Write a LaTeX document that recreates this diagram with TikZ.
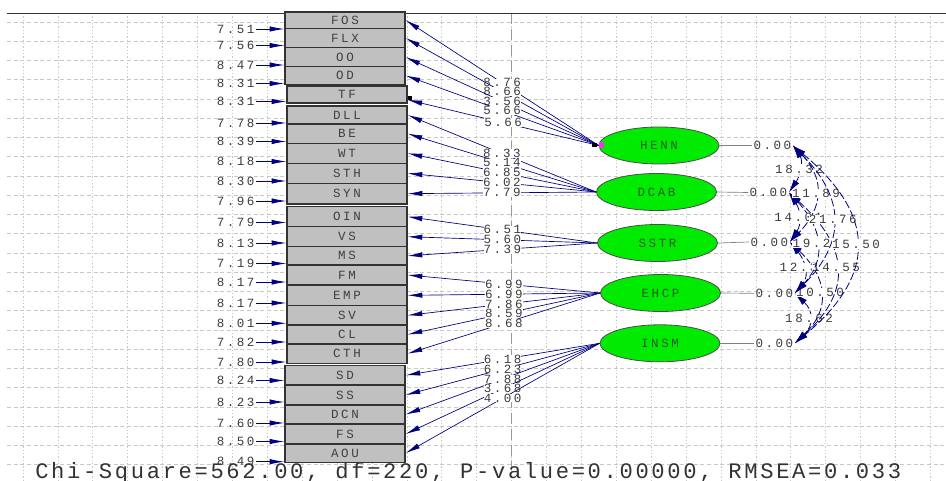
\documentclass[tikz,border=0pt]{standalone}
\usepackage{fontspec}
\newfontfamily\lmono[LetterSpace=20]{Liberation Mono}
\newfontfamily\bmono[LetterSpace=12]{Liberation Mono}
\usetikzlibrary{arrows.meta,shapes.geometric,fit}
\definecolor{navy}{RGB}{0,0,128}
\definecolor{gridc}{RGB}{200,200,200}
\definecolor{txt}{RGB}{60,60,60}
\definecolor{boxfill}{RGB}{192,192,192}
\definecolor{ellfill}{RGB}{0,235,0}
\definecolor{elltext}{RGB}{40,90,40}
\definecolor{handle}{RGB}{224,64,224}
\begin{document}
\begin{tikzpicture}[x=0.75pt,y=-0.75pt,
  num/.style={font=\lmono\fontsize{9.4}{11}\selectfont, text=txt, inner sep=1pt},
  boxt/.style={num, text=black!75},
  obox/.style={rectangle, draw=black!80, line width=0.9pt, fill=boxfill, inner sep=0pt},
  factor/.style={ellipse, draw=black!70, line width=0.6pt, fill=ellfill, minimum width=90pt, minimum height=27.75pt, inner sep=0pt, font=\lmono\fontsize{9.4}{11}\selectfont, text=elltext},
  earr/.style={navy, line width=0.6pt, -{Latex[length=11pt,width=4pt]}},
  load/.style={navy, line width=0.5pt, -{Latex[length=11pt,width=4pt]}},
  lbl/.style={num, fill=white, inner sep=0pt},
  vline/.style={gray, line width=0.5pt},
  corr/.style={navy, line width=0.6pt, dash pattern=on 6pt off 2pt, {Latex[length=10pt,width=5pt]}-{Latex[length=10pt,width=5pt]}},
  clbl/.style={num, fill=white, inner sep=0.3pt},
  vgrid/.style={gridc, line width=0.5pt, dash pattern=on 1pt off 1.5pt},
  hgrid/.style={gridc, line width=0.5pt, dash pattern=on 3pt off 2pt},
  cgrid/.style={gray!80, line width=0.6pt, dash pattern=on 8pt off 4pt}]
\useasboundingbox (0,0) rectangle (946,481);
\fill[white] (0,0) rectangle (946,481);
% grid
\foreach \k in {0,...,26} \draw[vgrid] ({23+34.9*\k},13) -- ({23+34.9*\k},481);
\foreach \k in {0,...,23} \draw[hgrid] (7,{22+19.25*\k}) -- (946,{22+19.25*\k});
\draw[cgrid] (511.6,13) -- (511.6,470);
\draw[black!80, line width=0.7pt] (7,13) -- (946,13);
% observed boxes
\node[obox, fit={(285,12) (405,28.3)}, label={[boxt]center:FOS}] (FOS) {};
\node[obox, fit={(285,28.3) (405,47.7)}, label={[boxt]center:FLX}] (FLX) {};
\node[obox, fit={(285,47.7) (405,66.7)}, label={[boxt]center:OO}] (OO) {};
\node[obox, fit={(285,66.7) (405,84.3)}, label={[boxt]center:OD}] (OD) {};
\node[obox, fit={(287,86) (407,103)}, label={[boxt]center:TF}] (TF) {};
\node[obox, fit={(287,106) (407,124)}, label={[boxt]center:DLL}] (DLL) {};
\node[obox, fit={(287,124) (407,143.3)}, label={[boxt]center:BE}] (BE) {};
\node[obox, fit={(287,143.3) (407,163.3)}, label={[boxt]center:WT}] (WT) {};
\node[obox, fit={(287,163.3) (407,183.3)}, label={[boxt]center:STH}] (STH) {};
\node[obox, fit={(287,183.3) (407,204)}, label={[boxt]center:SYN}] (SYN) {};
\node[obox, fit={(287,206.7) (407,226.7)}, label={[boxt]center:OIN}] (OIN) {};
\node[obox, fit={(287,226.7) (407,246.7)}, label={[boxt]center:VS}] (VS) {};
\node[obox, fit={(287,246.7) (407,265)}, label={[boxt]center:MS}] (MS) {};
\node[obox, fit={(287,265) (407,285)}, label={[boxt]center:FM}] (FM) {};
\node[obox, fit={(287,285) (407,305.7)}, label={[boxt]center:EMP}] (EMP) {};
\node[obox, fit={(287,305.7) (407,325)}, label={[boxt]center:SV}] (SV) {};
\node[obox, fit={(287,325) (407,344)}, label={[boxt]center:CL}] (CL) {};
\node[obox, fit={(287,344) (407,363.3)}, label={[boxt]center:CTH}] (CTH) {};
\node[obox, fit={(285,365.7) (405,385)}, label={[boxt]center:SD}] (SD) {};
\node[obox, fit={(285,385) (405,405)}, label={[boxt]center:SS}] (SS) {};
\node[obox, fit={(285,405) (405,424)}, label={[boxt]center:DCN}] (DCN) {};
\node[obox, fit={(285,424) (405,444)}, label={[boxt]center:FS}] (FS) {};
\node[obox, fit={(285,444) (405,462.3)}, label={[boxt]center:AOU}] (AOU) {};
% error terms
\node[num, anchor=east] (e1) at (256,29) {7.51};
\node[num, anchor=east] (e2) at (256,45.5) {7.56};
\node[num, anchor=east] (e3) at (256,65) {8.47};
\node[num, anchor=east] (e4) at (256,83.5) {8.31};
\node[num, anchor=east] (e5) at (256,101.5) {8.31};
\node[num, anchor=east] (e6) at (256,123) {7.78};
\node[num, anchor=east] (e7) at (256,141.5) {8.39};
\node[num, anchor=east] (e8) at (256,161.5) {8.18};
\node[num, anchor=east] (e9) at (256,181) {8.30};
\node[num, anchor=east] (e10) at (256,201) {7.96};
\node[num, anchor=east] (e11) at (256,222.5) {7.79};
\node[num, anchor=east] (e12) at (256,243) {8.13};
\node[num, anchor=east] (e13) at (256,263.5) {7.19};
\node[num, anchor=east] (e14) at (256,282) {8.17};
\node[num, anchor=east] (e15) at (256,303) {8.17};
\node[num, anchor=east] (e16) at (256,323.3) {8.01};
\node[num, anchor=east] (e17) at (256,342) {7.82};
\node[num, anchor=east] (e18) at (256,362) {7.80};
\node[num, anchor=east] (e19) at (256,380.5) {8.24};
\node[num, anchor=east] (e20) at (256,402) {8.23};
\node[num, anchor=east] (e21) at (256,423) {7.60};
\node[num, anchor=east] (e22) at (256,441.5) {8.50};
\node[num, anchor=east] (e23) at (256,461.7) {8.49};
\draw[earr] (e1.east) -- (e1.east -| FOS.west);
\draw[earr] (e2.east) -- (e2.east -| FLX.west);
\draw[earr] (e3.east) -- (e3.east -| OO.west);
\draw[earr] (e4.east) -- (e4.east -| OD.west);
\draw[earr] (e5.east) -- (e5.east -| TF.west);
\draw[earr] (e6.east) -- (e6.east -| DLL.west);
\draw[earr] (e7.east) -- (e7.east -| BE.west);
\draw[earr] (e8.east) -- (e8.east -| WT.west);
\draw[earr] (e9.east) -- (e9.east -| STH.west);
\draw[earr] (e10.east) -- (e10.east -| SYN.west);
\draw[earr] (e11.east) -- (e11.east -| OIN.west);
\draw[earr] (e12.east) -- (e12.east -| VS.west);
\draw[earr] (e13.east) -- (e13.east -| MS.west);
\draw[earr] (e14.east) -- (e14.east -| FM.west);
\draw[earr] (e15.east) -- (e15.east -| EMP.west);
\draw[earr] (e16.east) -- (e16.east -| SV.west);
\draw[earr] (e17.east) -- (e17.east -| CL.west);
\draw[earr] (e18.east) -- (e18.east -| CTH.west);
\draw[earr] (e19.east) -- (e19.east -| SD.west);
\draw[earr] (e20.east) -- (e20.east -| SS.west);
\draw[earr] (e21.east) -- (e21.east -| DCN.west);
\draw[earr] (e22.east) -- (e22.east -| FS.west);
\draw[earr] (e23.east) -- (e23.east -| AOU.west);
% latent factors
\node[factor] (HENN) at (659,145.5) {HENN};
\node[factor] (DCAB) at (656.5,192) {DCAB};
\node[factor] (SSTR) at (657.5,243) {SSTR};
\node[factor] (EHCP) at (660.5,293) {EHCP};
\node[factor] (INSM) at (660,343.3) {INSM};
% loadings
\draw[load] (HENN.west) -- node[lbl] {8.76} (FOS.east);
\draw[load] (HENN.west) -- node[lbl] {8.66} (FLX.east);
\draw[load] (HENN.west) -- node[lbl] {3.56} (OO.east);
\draw[load] (HENN.west) -- node[lbl] {5.66} (OD.east);
\draw[load] (HENN.west) -- node[lbl] {5.66} ([yshift=-4pt]TF.east);
\draw[load] (DCAB.west) -- node[lbl] {8.33} (DLL.east);
\draw[load] (DCAB.west) -- node[lbl] {5.14} (BE.east);
\draw[load] (DCAB.west) -- node[lbl] {6.85} (WT.east);
\draw[load] (DCAB.west) -- node[lbl] {6.02} (STH.east);
\draw[load] (DCAB.west) -- node[lbl] {7.79} (SYN.east);
\draw[load] (SSTR.west) -- node[lbl] {6.51} (OIN.east);
\draw[load] (SSTR.west) -- node[lbl] {5.60} (VS.east);
\draw[load] (SSTR.west) -- node[lbl] {7.39} (MS.east);
\draw[load] (EHCP.west) -- node[lbl] {6.99} (FM.east);
\draw[load] (EHCP.west) -- node[lbl] {6.99} (EMP.east);
\draw[load] (EHCP.west) -- node[lbl] {7.86} (SV.east);
\draw[load] (EHCP.west) -- node[lbl] {8.59} (CL.east);
\draw[load] (EHCP.west) -- node[lbl] {8.68} (CTH.east);
\draw[load] (INSM.west) -- node[lbl] {6.18} (SD.east);
\draw[load] (INSM.west) -- node[lbl] {6.23} (SS.east);
\draw[load] (INSM.west) -- node[lbl] {7.88} (DCN.east);
\draw[load] (INSM.west) -- node[lbl] {3.68} (FS.east);
\draw[load] (INSM.west) -- node[lbl] {4.00} (AOU.east);
% selection handles
\fill[black] (408,96) rectangle (412,100);
\fill[black] (592,143) rectangle (597,147);
\fill[handle] (599,142) rectangle (604,148);
% variances
\node[num, anchor=west] (v1) at (752,145.5) {0.00};
\node[num, anchor=west] (v2) at (748,192.5) {0.00};
\node[num, anchor=west] (v3) at (749,242) {0.00};
\node[num, anchor=west] (v4) at (754,293.3) {0.00};
\node[num, anchor=west] (v5) at (754,343.3) {0.00};
\draw[vline] (HENN.east) -- (v1.west);
\draw[vline] (DCAB.east) -- (v2.west);
\draw[vline] (SSTR.east) -- (v3.west);
\draw[vline] (EHCP.east) -- (v4.west);
\draw[vline] (INSM.east) -- (v5.west);
% correlations
\draw[corr] (v4.east) .. controls +(19,18) and +(19,-18) .. node[clbl] {18.62} (v5.east);
\draw[corr] (v3.east) .. controls +(37,35) and +(37,-35) .. node[clbl] {10.50} (v5.east);
\draw[corr] (v3.east) .. controls +(15,18) and +(15,-18) .. node[clbl] {12.31} (v4.east);
\draw[corr] (v2.east) .. controls +(59,53) and +(59,-53) .. node[clbl] {14.55} (v5.east);
\draw[corr] (v2.east) .. controls +(33,35) and +(33,-35) .. node[clbl] {19.21} (v4.east);
\draw[corr] (v2.east) .. controls +(12,18) and +(12,-18) .. node[clbl] {14.01} (v3.east);
\draw[corr] (v1.east) .. controls +(11,16) and +(11,-16) .. node[clbl] {18.32} (v2.east);
\draw[corr] (v1.east) .. controls +(33,34) and +(33,-34) .. node[clbl] {11.89} (v3.east);
\draw[corr] (v1.east) .. controls +(52,52) and +(52,-52) .. node[clbl] {21.76} (v4.east);
\draw[corr] (v1.east) .. controls +(83,69) and +(83,-69) .. node[clbl] {15.50} (v5.east);
% fit statistics
\node[anchor=base west, inner sep=0pt, font=\bmono\fontsize{16.6}{19}\selectfont, text=black!80] (stats) at (35,478.5) {Chi-Square=562.00, df=220, P-value=0.00000, RMSEA=0.033};
\end{tikzpicture}
\end{document}
